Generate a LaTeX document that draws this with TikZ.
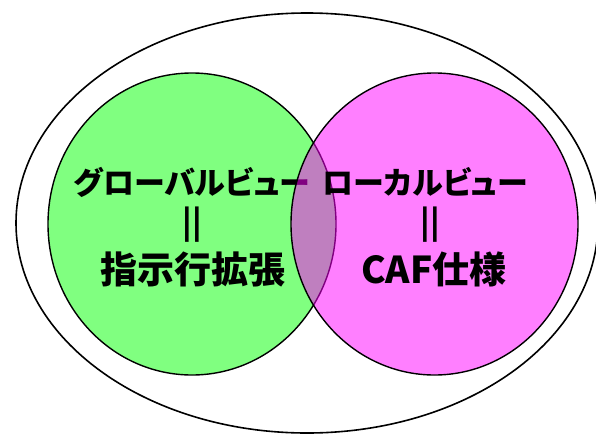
\documentclass[tikz,border=0pt]{standalone}
\usepackage{fontspec}
\newfontfamily\jp{Noto Sans CJK JP}[RawFeature=+palt]
\newfontfamily\jpfull{Noto Sans CJK JP}
\definecolor{lgreen}{HTML}{80FF80}
\definecolor{mag}{HTML}{FF00FF}
\begin{document}
\begin{tikzpicture}[x=1pt,y=-1pt,
  lbl/.style={inner sep=0pt, font=\jp\bfseries\fontsize{37pt}{40pt}\selectfont},
  kata/.style={inner sep=0pt, font=\jp\bfseries\fontsize{31pt}{36pt}\selectfont},
  bars/.style={inner sep=0pt, font=\jpfull\bfseries\fontsize{31pt}{34pt}\selectfont}]
\useasboundingbox (0,0) rectangle (596,434);
\draw[line width=1.6pt] (307,223) ellipse [x radius=291, y radius=210];
\draw[line width=1.4pt, fill=lgreen] (192,224) ellipse [x radius=144, y radius=151];
\node[kata] (g1) at (192,182) {グローバルビュー};
\node[bars] (g2) at (192,225) {||};
\node[lbl] (g3) at (193,269) {指示行拡張};
\draw[line width=1.4pt, fill=mag, fill opacity=0.5] (434.5,224) ellipse [x radius=143.5, y radius=151];
\node[kata] (p1) at (425,182) {ローカルビュー};
\node[bars] (p2) at (430,225) {||};
\node[lbl] (p3) at (434,269) {CAF仕様};
\end{tikzpicture}
\end{document}
